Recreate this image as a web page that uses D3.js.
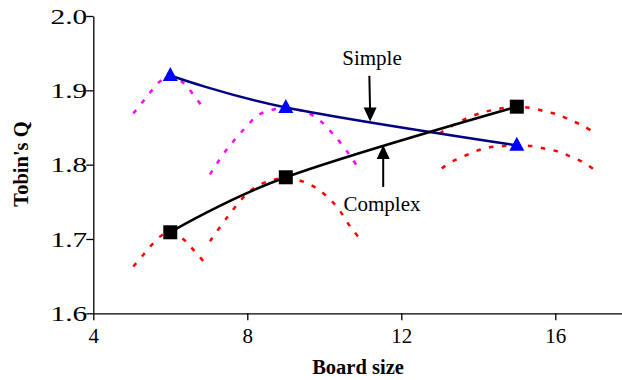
<!DOCTYPE html>
<html>
<head>
<meta charset="utf-8">
<script src="https://cdn.jsdelivr.net/npm/d3@7"></script>
<style>
  body { margin: 0; background: #fff; }
  svg { display: block; font-family: "Liberation Serif", "Times New Roman", serif; }
</style>
</head>
<body>
<svg class="chart" width="622" height="380"></svg>
<script>
// values
const boardSize = [6, 9, 15]
const simpleQ = [1.92, 1.877, 1.826]
const complexQ = [1.709, 1.783, 1.878]
const xTicks = [4, 8, 12, 16]
const yTicks = [1.6, 1.7, 1.8, 1.9, 2.0]

// local (dotted) curves around each point, [board size, Q]
const simpleLocal6 = [[5.04,1.869],[5.26,1.883],[5.49,1.898],[5.73,1.912],[6.0,1.919],[6.36,1.909],[6.6,1.894],[6.83,1.878]]
const simpleLocal9 = [[7.03,1.787],[7.46,1.82],[7.94,1.849],[8.33,1.868],[9.0,1.876],[9.71,1.866],[10.28,1.838],[10.71,1.809],[10.93,1.791]]
const simpleLocal15 = [[13.05,1.795],[13.35,1.805],[13.7,1.813],[14.04,1.82],[14.39,1.824],[15,1.826],[15.39,1.825],[15.78,1.821],[16.08,1.8175],[16.39,1.811],[16.73,1.803],[16.99,1.794]]
const complexLocal6 = [[5.04,1.663],[5.28,1.6775],[5.52,1.692],[5.78,1.705],[6.0,1.709],[6.38,1.698],[6.62,1.684],[6.9,1.668]]
const complexLocal9 = [[7.03,1.697],[7.46,1.728],[7.94,1.758],[8.33,1.773],[9.0,1.782],[9.71,1.771],[10.28,1.746],[10.71,1.714],[10.93,1.70]]
const complexLocal15 = [[13.0,1.842],[13.52,1.858],[14.04,1.869],[14.48,1.8746],[15,1.878],[15.39,1.876],[15.78,1.871],[16.08,1.867],[16.39,1.86],[16.73,1.852],[16.99,1.844]]

const svg = d3.select(".chart")

const x = d3.scaleLinear().domain([4, 18]).range([93.3, 632.3])
const y = d3.scaleLinear().domain([1.6, 2.0]).range([313.3, 16])

// dotted local curves
const localLine = d3.line()
  .x(d => x(d[0]))
  .y(d => y(d[1]))
  .curve(d3.curveCatmullRom)

const locals = [
  {pts: simpleLocal6, color: "#ff00ff"},
  {pts: simpleLocal9, color: "#ff00ff"},
  {pts: simpleLocal15, color: "#ff0000"},
  {pts: complexLocal6, color: "#ff0000"},
  {pts: complexLocal9, color: "#ff0000"},
  {pts: complexLocal15, color: "#ff0000"}
]

svg.selectAll(".local")
  .data(locals)
  .enter()
  .append("path")
    .attr("class", "local")
    .attr("d", d => localLine(d.pts))
    .attr("fill", "none")
    .attr("stroke", d => d.color)
    .attr("stroke-width", 2.5)
    .attr("stroke-dasharray", "4.5 8.5")

// axes
const yAxis = svg.append("g")
  .attr("transform", "translate(" + x(4) + ",0)")
  .call(d3.axisLeft(y).tickValues(yTicks).tickFormat(d3.format(".1f")).tickSize(7).tickSizeOuter(0))
yAxis.select(".domain").attr("stroke-width", 1.3)
yAxis.selectAll(".tick line").attr("stroke-width", 1.3)
yAxis.selectAll(".tick text")
  .attr("x", 0)
  .attr("dy", "0.34em")
  .attr("font-size", 21)
  .attr("font-family", "Liberation Serif")
  .attr("fill", "#000")
  .attr("transform", "translate(-6,0) scale(1.4,1)")

const xAxis = svg.append("g")
  .attr("transform", "translate(0," + y(1.6) + ")")
  .call(d3.axisBottom(x).tickValues(xTicks).tickSize(7).tickSizeOuter(0))
xAxis.select(".domain").attr("stroke-width", 1.3)
xAxis.selectAll(".tick line").attr("stroke-width", 1.3)
xAxis.selectAll(".tick text")
  .attr("y", 0)
  .attr("dy", "30")
  .attr("font-size", 21)
  .attr("font-family", "Liberation Serif")
  .attr("fill", "#000")

// main smoothed lines
const mainLine = d3.line()
  .x((d, i) => x(boardSize[i]))
  .y(d => y(d))
  .curve(d3.curveCardinal.tension(0))

svg.append("path")
  .attr("d", mainLine(simpleQ))
  .attr("fill", "none")
  .attr("stroke", "#000080")
  .attr("stroke-width", 2.5)

svg.append("path")
  .attr("d", mainLine(complexQ))
  .attr("fill", "none")
  .attr("stroke", "#000")
  .attr("stroke-width", 2.5)

// markers
svg.selectAll(".tri")
  .data(simpleQ)
  .enter()
  .append("path")
    .attr("class", "tri")
    .attr("transform", (d, i) => "translate(" + x(boardSize[i]) + "," + y(d) + ")")
    .attr("d", "M0,-8.5L7.5,5.5L-7.5,5.5Z")
    .attr("fill", "#0000ff")

svg.selectAll(".sq")
  .data(complexQ)
  .enter()
  .append("rect")
    .attr("class", "sq")
    .attr("x", (d, i) => x(boardSize[i]) - 7)
    .attr("y", d => y(d) - 7)
    .attr("width", 14)
    .attr("height", 14)
    .attr("fill", "#000")

// annotations: arrow from (x0,y0) to tip at (x1,y1), in data units
function arrow(x0, y0, x1, y1){
  const px0 = x(x0), py0 = y(y0), tx = x(x1), ty = y(y1)
  const dir = ty > py0 ? 1 : -1   // 1 = tip below tail
  svg.append("line")
    .attr("x1", px0).attr("y1", py0)
    .attr("x2", tx).attr("y2", ty - dir * 10)
    .attr("stroke", "#000")
    .attr("stroke-width", 2)
  svg.append("path")
    .attr("d", "M" + tx + "," + ty + "L" + (tx - 6.5) + "," + (ty - dir * 14) + "L" + (tx + 6.5) + "," + (ty - dir * 14) + "Z")
    .attr("fill", "#000")
}
arrow(11.17, 1.9196, 11.19, 1.858)
arrow(11.53, 1.770, 11.53, 1.8265)

svg.append("text")
  .attr("x", 372).attr("y", 65)
  .attr("text-anchor", "middle")
  .attr("font-size", 21)
  .text("Simple")

svg.append("text")
  .attr("x", 382).attr("y", 210.5)
  .attr("text-anchor", "middle")
  .attr("font-size", 21)
  .text("Complex")

// axis titles
svg.append("text")
  .attr("x", 358).attr("y", 374)
  .attr("text-anchor", "middle")
  .attr("font-size", 20.5)
  .attr("font-weight", "bold")
  .text("Board size")

svg.append("text")
  .attr("transform", "translate(28,164) rotate(-90)")
  .attr("text-anchor", "middle")
  .attr("font-size", 20.5)
  .attr("font-weight", "bold")
  .text("Tobin's Q")
</script>
</body>
</html>
